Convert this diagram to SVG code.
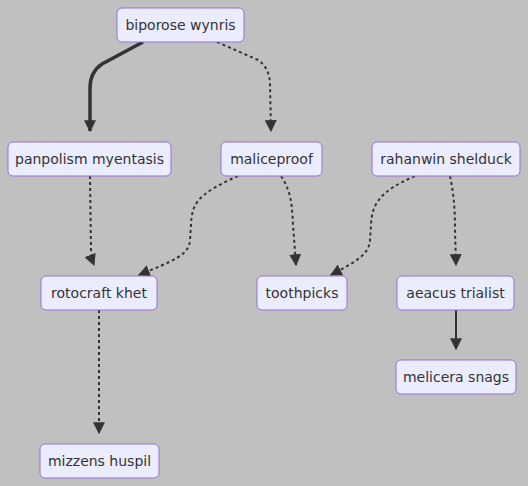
<svg xmlns="http://www.w3.org/2000/svg" width="528" height="486" viewBox="0 0 528 486">
<style>
.n rect{fill:#ECECFF;stroke:#9370DB;stroke-width:1}
.n text{font-family:"DejaVu Sans",sans-serif;font-size:14px;fill:#333;text-anchor:middle;dominant-baseline:central}
.e{fill:none;stroke:#333;stroke-width:2}
.d{stroke-dasharray:3 3}
.t{stroke-width:3.5}
</style>
<defs>
<marker id="ab" viewBox="0 0 10 10" refX="9" refY="5" markerWidth="12" markerHeight="12" markerUnits="userSpaceOnUse" orient="auto"><path d="M0,0L10,5L0,10z" fill="#333"/></marker>
</defs>
<rect width="528" height="486" fill="#C0C0C0"/>
<g id="edges">
<path class="e t" d="M143,42 L102,64 Q90,72 90,88 L90,131" marker-end="url(#ab)"/>
<path class="e d" d="M217,42 L258,60 Q270,68 270,85 L271,131" marker-end="url(#ab)"/>
<path class="e d" d="M90,176 L91,250 Q92,260 94,265" marker-end="url(#ab)"/>
<path class="e d" d="M238,176 C195,195 192,205 191,225 L190,240 C189,255 175,260 139,275" marker-end="url(#ab)"/>
<path class="e d" d="M281,176 C290,190 292,200 293,225 L296,265" marker-end="url(#ab)"/>
<path class="e d" d="M415,176 C378,192 372,205 371,225 L370,240 C369,255 355,262 331,275" marker-end="url(#ab)"/>
<path class="e d" d="M450,176 C454,195 455,210 455,230 L456,265" marker-end="url(#ab)"/>
<path class="e" d="M456,310 L456,349" marker-end="url(#ab)"/>
<path class="e d" d="M99,310 L99,433" marker-end="url(#ab)"/>
</g>
<g id="biporose" class="n"><rect x="117" y="8" width="127" height="34" rx="5"/><text x="180.5" y="25">biporose wynris</text></g>
<g id="panpolism" class="n"><rect x="8" y="142" width="163" height="34" rx="5"/><text x="89.5" y="159">panpolism myentasis</text></g>
<g id="maliceproof" class="n"><rect x="221" y="142" width="101" height="34" rx="5"/><text x="271.5" y="159">maliceproof</text></g>
<g id="rahanwin" class="n"><rect x="372" y="142" width="148" height="34" rx="5"/><text x="446" y="159">rahanwin shelduck</text></g>
<g id="rotocraft" class="n"><rect x="41" y="276" width="116" height="34" rx="5"/><text x="99" y="293">rotocraft khet</text></g>
<g id="toothpicks" class="n"><rect x="257" y="276" width="90" height="34" rx="5"/><text x="302" y="293">toothpicks</text></g>
<g id="aeacus" class="n"><rect x="397" y="276" width="117" height="34" rx="5"/><text x="455.5" y="293">aeacus trialist</text></g>
<g id="melicera" class="n"><rect x="396" y="360" width="120" height="34" rx="5"/><text x="456" y="377">melicera snags</text></g>
<g id="mizzens" class="n"><rect x="40" y="444" width="119" height="34" rx="5"/><text x="99.5" y="461">mizzens huspil</text></g>
</svg>
